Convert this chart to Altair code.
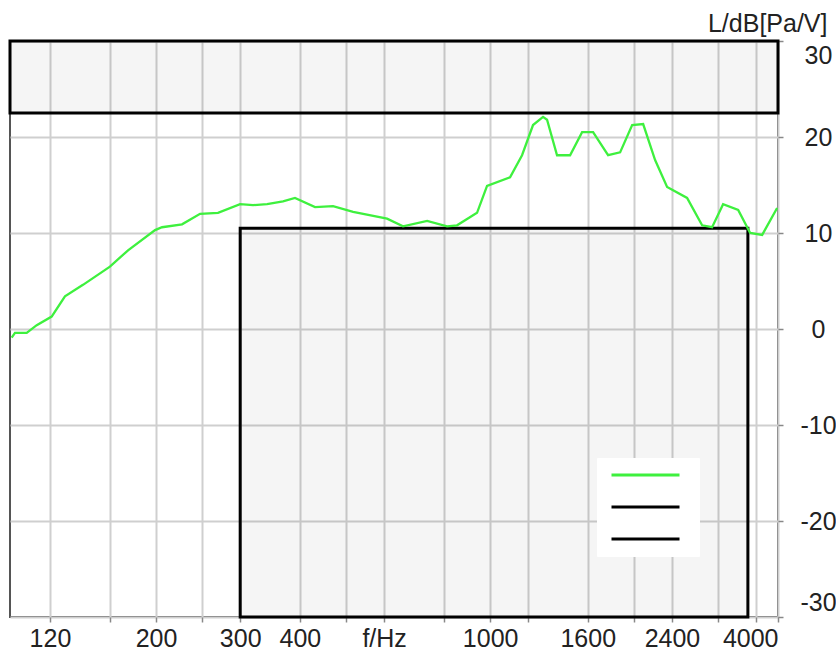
import altair as alt
import pandas as pd

# Measured response (frequency in Hz, level in dB)
freq = [99.8, 101.4, 107.3, 112.6, 121, 129, 140.7, 160.2, 174.8, 199.1, 205.9, 226.7,
        247.3, 269.6, 299.8, 319.2, 341.5, 368.7, 390.6, 430.2, 469.2, 516.8, 608.6,
        657.3, 738.2, 812.5, 852.5, 938.8, 985.1, 1100.5, 1166, 1229.3, 1290, 1315.2,
        1380, 1469.5, 1557, 1641.6, 1764.7, 1869.9, 1981.6, 2089.3, 2213.1, 2344.7,
        2581.7, 2775.5, 2912.3, 3070.7, 3301.8, 3498.4, 3706.4, 3983]
level = [-0.9, -0.4, -0.4, 0.4, 1.3, 3.4, 4.6, 6.5, 8.2, 10.3, 10.6, 10.9,
         12.0, 12.1, 13.0, 12.9, 13.0, 13.3, 13.65, 12.7, 12.8, 12.2, 11.5,
         10.7, 11.25, 10.7, 10.8, 12.1, 14.9, 15.8, 18.1, 21.25, 22.1, 21.8,
         18.1, 18.1, 20.5, 20.5, 18.1, 18.4, 21.25, 21.35, 17.6, 14.8,
         13.65, 10.8, 10.6, 13.0, 12.4, 10.0, 9.8, 12.6]

# Tolerance masks
mask_names = ["Obere Grenze", "Untere Grenze"]
mask_f_lo = [99, 300]
mask_f_hi = [4000, 3460]
mask_l_lo = [22.5, -30]
mask_l_hi = [30, 10.5]

series_names = ["Messkurve", "Obere Grenze", "Untere Grenze"]
series_colors = ["#3ef03e", "#000000", "#000000"]

grid_freqs = [120, 160, 200, 250, 300, 400, 500, 600, 800, 1000, 1200, 1600,
              2000, 2400, 3000, 3600, 4000]
label_freqs = [120, 200, 300, 400, 1000, 1600, 2400, 4000]
axis_title_freq = 600
y_ticks = [-30, -20, -10, 0, 10, 20, 30]

curve = pd.DataFrame({"f": freq, "L": level, "series": series_names[0]})
masks = pd.DataFrame({"f": mask_f_lo, "f2": mask_f_hi, "L": mask_l_lo,
                      "L2": mask_l_hi, "series": mask_names})

FONT = "Liberation Sans"
label_list = ",".join(str(v) for v in label_freqs)
label_expr = (f"datum.value == {axis_title_freq} ? 'f/Hz' : "
              f"(indexof([{label_list}], datum.value) >= 0 ? '' + datum.value : '')")

xscale = alt.Scale(type="log", domain=[99, 4000], nice=False, zero=False)
yscale = alt.Scale(domain=[-30, 30], nice=False, zero=False)

xaxis = alt.Axis(orient="bottom", values=grid_freqs, labelExpr=label_expr,
                 title=None, grid=True, gridColor="#cfcfcf", gridWidth=2,
                 domain=False, ticks=True, tickSize=5, tickColor="#888888",
                 tickWidth=1.5, labelFont=FONT, labelFontSize=25,
                 labelColor="#222222", labelPadding=4, labelFlush=True,
                 labelOverlap=False)
yaxis = alt.Axis(orient="right", values=y_ticks, labelExpr="'' + datum.value",
                 grid=True, gridColor="#cfcfcf",
                 gridWidth=2, domain=False, tickSize=5, tickColor="#888888",
                 tickWidth=1.5, labelFont=FONT, labelFontSize=25,
                 labelColor="#222222", labelAlign="center", labelPadding=35,
                 labelFlush=True, labelFlushOffset=-2, labelOverlap=False,
                 title="L/dB[Pa/V]", titleAngle=0, titleAlign="right",
                 titleBaseline="middle", titleX=49, titleY=-18,
                 titleFont=FONT, titleFontSize=25, titleFontWeight="normal",
                 titleColor="#222222")

stroke_enc = alt.Stroke(
    "series:N",
    scale=alt.Scale(domain=series_names, range=series_colors),
    legend=alt.Legend(title=None, orient="none", legendX=587, legendY=417,
                      symbolType="stroke", symbolSize=4624, symbolStrokeWidth=3,
                      clipHeight=8, rowPadding=24, padding=13,
                      fillColor="white", strokeColor="white",
                      labelExpr="''", labelFontSize=1, labelOffset=5),
)

rects = alt.Chart(masks).mark_rect(
    fill="#000000", fillOpacity=0.04, strokeWidth=3
).encode(
    x=alt.X("f:Q", scale=xscale, axis=xaxis),
    x2="f2:Q",
    y=alt.Y("L:Q", scale=yscale, axis=yaxis),
    y2="L2:Q",
    stroke=stroke_enc,
)

line = alt.Chart(curve).mark_line(strokeWidth=2.3).encode(
    x=alt.X("f:Q", scale=xscale, axis=xaxis),
    y=alt.Y("L:Q", scale=yscale, axis=yaxis),
    stroke=stroke_enc,
    order="f:Q",
)

chart = alt.layer(rects, line).properties(
    width=768, height=576,
    padding={"left": 10, "top": 41, "right": 58, "bottom": 34},
    autosize=alt.AutoSizeParams(type="none"),
    background="white",
).configure_view(stroke="#555555", strokeWidth=2)

chart.save("out.html", embed_options={"renderer": "svg", "actions": False})
